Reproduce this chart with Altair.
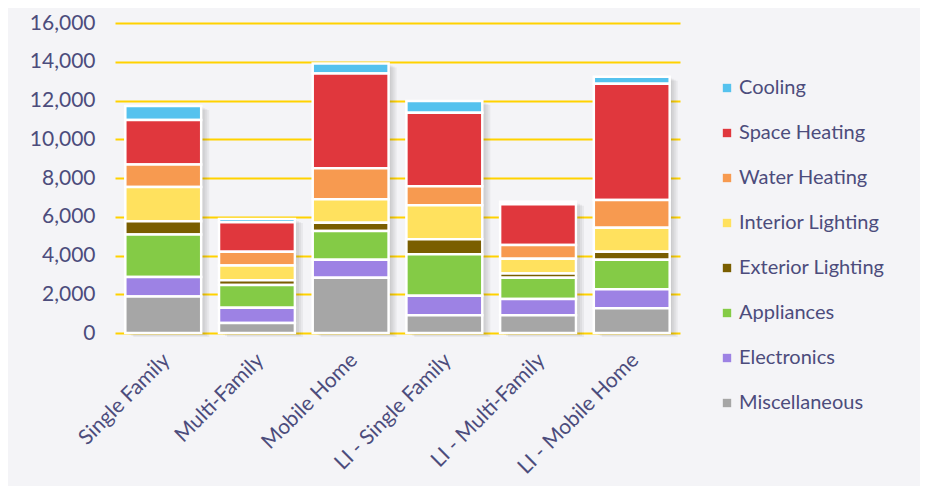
import altair as alt
import pandas as pd

categories = ["Single Family", "Multi-Family", "Mobile Home",
              "LI - Single Family", "LI - Multi-Family", "LI - Mobile Home"]
end_uses = ["Cooling", "Space Heating", "Water Heating", "Interior Lighting",
            "Exterior Lighting", "Appliances", "Electronics", "Miscellaneous"]
colors = ["#55C2EE", "#E0373D", "#F79A50", "#FFE15E",
          "#7A5E00", "#84CB46", "#9D82E4", "#A6A6A6"]
y_ticks = [0, 2000, 4000, 6000, 8000, 10000, 12000, 14000, 16000]

cooling           = [710, 170, 510, 600, 120, 370]
space_heating     = [2300, 1520, 4900, 3790, 2110, 5990]
water_heating     = [1170, 720, 1600, 980, 710, 1440]
interior_lighting = [1760, 760, 1210, 1760, 760, 1230]
exterior_lighting = [690, 240, 420, 770, 220, 420]
appliances        = [2190, 1180, 1490, 2150, 1090, 1520]
electronics       = [1000, 780, 930, 1010, 850, 980]
miscellaneous     = [1890, 520, 2850, 910, 910, 1280]

series = [cooling, space_heating, water_heating, interior_lighting,
          exterior_lighting, appliances, electronics, miscellaneous]

rows = []
for k, (name, vals) in enumerate(zip(end_uses, series)):
    for c, v in zip(categories, vals):
        rows.append({"Type": c, "Use": name, "Value": v, "ord": len(end_uses) - k})
df = pd.DataFrame(rows)

label_color = "#4C4C7C"
font = "Lato"

x_enc = alt.X("Type:N", sort=categories,
              scale=alt.Scale(paddingInner=0.19, paddingOuter=0.11),
              axis=alt.Axis(title=None, labelAngle=-45, labelFontSize=21,
                            labelColor=label_color, labelFont=font, ticks=False,
                            domain=False, labelPadding=16, labelOffset=-4,
                            grid=False))
y_scale = alt.Scale(domain=[0, 16000])
y_axis = alt.Axis(title=None, values=y_ticks, format=",.0f", labelOverlap=False,
                  labelFontSize=21, labelColor=label_color, labelFont=font,
                  ticks=False, domain=False, labelPadding=20,
                  grid=True, gridColor="#FFD200", gridWidth=2)

base = alt.Chart(df)

shadows = []
for dx, dy in [(2, 1), (4, 2), (6, 3), (8, 4)]:
    shadows.append(
        base.transform_aggregate(total="sum(Value)", groupby=["Type"])
        .mark_bar(color="#303030", opacity=0.06, xOffset=dx, x2Offset=dx,
                  yOffset=dy, y2Offset=dy)
        .encode(x=x_enc, y=alt.Y("total:Q", scale=y_scale, axis=y_axis))
    )

bars = base.mark_bar(stroke="white", strokeWidth=2.5).encode(
    x=x_enc,
    y=alt.Y("Value:Q", stack="zero", scale=y_scale, axis=y_axis),
    color=alt.Color("Use:N", scale=alt.Scale(domain=end_uses, range=colors),
                    legend=alt.Legend(title=None, orient="none", legendX=602, legendY=55,
                                      symbolType="square", symbolSize=70,
                                      symbolStrokeWidth=0,
                                      labelFontSize=20, labelColor=label_color,
                                      labelFont=font, rowPadding=25, labelOffset=2,
                                      padding=0)),
    order=alt.Order("ord:Q", sort="ascending"),
)

chart = alt.layer(*shadows, bars).properties(
    width=565, height=310,
    autosize=alt.AutoSizeParams(type="none"),
    padding={"left": 107, "top": 15, "right": 240, "bottom": 160},
    background="#F4F4F7",
).configure_view(stroke=None)

chart.save("out.html", embed_options={"renderer": "svg", "actions": False})
